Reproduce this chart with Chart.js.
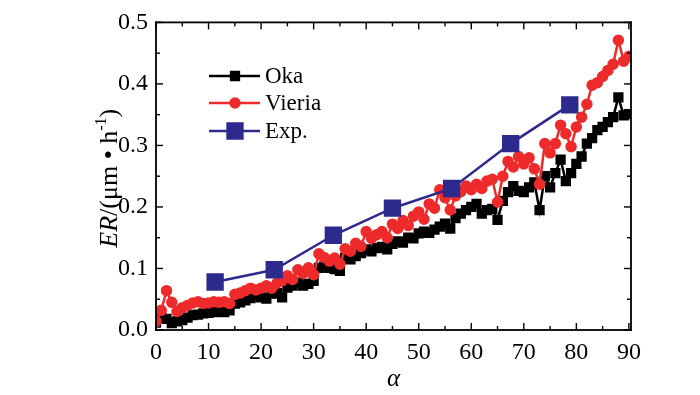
<!DOCTYPE html>
<html>
<head>
<meta charset="utf-8">
<script src="https://cdn.jsdelivr.net/npm/chart.js@4.4.0/dist/chart.umd.min.js"></script>
<style>
html, body { margin: 0; padding: 0; background: #fff; }
#wrap { width: 700px; height: 395px; position: relative; }
</style>
</head>
<body>
<div id="wrap"><canvas id="chart"></canvas></div>
<script>
// angle of attack (deg)
const angles = [
    0, 1, 2, 3, 4, 5, 6, 7, 8, 9,
    10, 11, 12, 13, 14, 15, 16, 17, 18, 19,
    20, 21, 22, 23, 24, 25, 26, 27, 28, 29,
    30, 31, 32, 33, 34, 35, 36, 37, 38, 39,
    40, 41, 42, 43, 44, 45, 46, 47, 48, 49,
    50, 51, 52, 53, 54, 55, 56, 57, 58, 59,
    60, 61, 62, 63, 64, 65, 66, 67, 68, 69,
    70, 71, 72, 73, 74, 75, 76, 77, 78, 79,
    80, 81, 82, 83, 84, 85, 86, 87, 88, 89,
    90
];

const okaValues = [
    0.012, 0.021, 0.018, 0.011, 0.014, 0.016, 0.020, 0.024, 0.025, 0.027,
    0.028, 0.029, 0.030, 0.029, 0.032, 0.043, 0.045, 0.048, 0.052, 0.056,
    0.053, 0.051, 0.059, 0.060, 0.053, 0.069, 0.072, 0.077, 0.072, 0.075,
    0.080, 0.101, 0.103, 0.101, 0.099, 0.096, 0.117, 0.115, 0.120, 0.125,
    0.131, 0.128, 0.133, 0.135, 0.131, 0.140, 0.144, 0.142, 0.150, 0.149,
    0.157, 0.160, 0.158, 0.163, 0.168, 0.173, 0.165, 0.182, 0.189, 0.195,
    0.200, 0.205, 0.189, 0.195, 0.197, 0.179, 0.210, 0.224, 0.234, 0.226,
    0.224, 0.232, 0.240, 0.195, 0.250, 0.232, 0.255, 0.277, 0.242, 0.255,
    0.270, 0.282, 0.303, 0.312, 0.325, 0.330, 0.338, 0.346, 0.378, 0.349,
    0.351
];

const vieriaValues = [
    0.014, 0.032, 0.064, 0.045, 0.030, 0.036, 0.040, 0.044, 0.046, 0.043,
    0.044, 0.046, 0.045, 0.046, 0.043, 0.058, 0.060, 0.064, 0.068, 0.065,
    0.068, 0.072, 0.068, 0.076, 0.080, 0.088, 0.082, 0.098, 0.092, 0.101,
    0.090, 0.124, 0.118, 0.112, 0.117, 0.107, 0.132, 0.128, 0.141, 0.136,
    0.160, 0.149, 0.155, 0.160, 0.150, 0.172, 0.165, 0.178, 0.170, 0.185,
    0.192, 0.180, 0.205, 0.198, 0.228, 0.215, 0.195, 0.218, 0.225, 0.234,
    0.228, 0.237, 0.230, 0.242, 0.245, 0.208, 0.250, 0.274, 0.265, 0.282,
    0.270, 0.280, 0.262, 0.237, 0.303, 0.288, 0.303, 0.333, 0.319, 0.298,
    0.330, 0.346, 0.367, 0.398, 0.402, 0.412, 0.422, 0.432, 0.471, 0.437,
    0.445
];

const expAngles = [11.25, 22.5, 33.75, 45, 56.25, 67.5, 78.75];
const expValues = [0.078, 0.098, 0.154, 0.198, 0.230, 0.303, 0.366];

const seriesLabels = ['Oka', 'Vieria', 'Exp.'];

const FONT = '"Liberation Serif", "Times New Roman", serif';

function toPoints(xs, ys) {
    return xs.map((x, i) => ({ x: x, y: ys[i] }));
}

// frame with inward ticks on all four sides
const framePlugin = {
    id: 'frame',
    afterDraw(chart) {
        const c = chart.ctx;
        const xs = chart.scales.x;
        const ys = chart.scales.y;
        const L = xs.getPixelForValue(xs.min);
        const R = xs.getPixelForValue(xs.max);
        const T = ys.getPixelForValue(ys.max);
        const B = ys.getPixelForValue(ys.min);
        c.save();
        c.fillStyle = '#000000';
        const w = 1.8;
        c.fillRect(L - w / 2, T - w / 2, R - L + w, w);
        c.fillRect(L - w / 2, B - w / 2, R - L + w, w);
        c.fillRect(L - w / 2, T - w / 2, w, B - T + w);
        c.fillRect(R - w / 2, T - w / 2, w, B - T + w);
        xs.ticks.forEach(t => {
            const px = xs.getPixelForValue(t.value);
            const len = Math.abs(t.value % 10) < 1e-6 ? 7 : 4;
            c.fillRect(px - 0.7, B - len, 1.4, len);
            c.fillRect(px - 0.7, T, 1.4, len);
        });
        ys.ticks.forEach(t => {
            const py = ys.getPixelForValue(t.value);
            const len = Math.round(t.value * 100) % 10 === 0 ? 7 : 4;
            c.fillRect(L, py - 0.7, len, 1.4);
            c.fillRect(R - len, py - 0.7, len, 1.4);
        });
        c.restore();
    }
};

// axis titles and legend
const textPlugin = {
    id: 'texts',
    afterDraw(chart) {
        const c = chart.ctx;
        const xs = chart.scales.x;
        const ys = chart.scales.y;
        const T = ys.getPixelForValue(ys.max);
        const B = ys.getPixelForValue(ys.min);
        c.save();
        c.fillStyle = '#000';
        c.textAlign = 'center';
        c.textBaseline = 'alphabetic';
        c.font = 'italic 25px ' + FONT;
        c.fillText('α', (xs.left + xs.right) / 2, 386);

        c.translate(117, (T + B) / 2 + 2);
        c.rotate(-Math.PI / 2);
        const parts = [
            { t: 'ER', f: 'italic 26px ' + FONT, dy: 0 },
            { t: '/(μm • h', f: '26px ' + FONT, dy: 0 },
            { t: '-1', f: '16px ' + FONT, dy: -11 },
            { t: ')', f: '26px ' + FONT, dy: 0 }
        ];
        let total = 0;
        parts.forEach(p => { c.font = p.f; p.w = c.measureText(p.t).width; total += p.w; });
        let cx = -total / 2;
        c.textAlign = 'left';
        parts.forEach(p => {
            c.font = p.f;
            c.fillText(p.t, cx, p.dy);
            cx += p.w;
        });
        c.restore();

        c.save();
        const rows = [76, 103, 131];
        chart.data.datasets.forEach((ds, i) => {
            const y = rows[i];
            c.strokeStyle = ds.borderColor;
            c.lineWidth = ds.borderWidth;
            c.beginPath();
            c.moveTo(209, y); c.lineTo(260, y);
            c.stroke();
            c.fillStyle = ds.pointBackgroundColor;
            c.strokeStyle = ds.pointBorderColor;
            Chart.helpers.drawPoint(c, {
                pointStyle: ds.pointStyle,
                radius: ds.pointRadius,
                borderWidth: 1
            }, 235, y);
            c.fillStyle = '#000';
            c.font = '23px ' + FONT;
            c.textBaseline = 'middle';
            c.textAlign = 'left';
            c.fillText(ds.label, 265, y + 1);
        });
        c.restore();
    }
};

const ctx = document.getElementById('chart').getContext('2d');

new Chart(ctx, {
    type: 'line',
    data: {
        datasets: [{
            label: seriesLabels[0],
            data: toPoints(angles, okaValues),
            borderColor: '#000000',
            backgroundColor: '#000000',
            pointBackgroundColor: '#000000',
            pointBorderColor: '#000000',
            pointStyle: 'rect',
            pointRadius: 5.5,
            borderWidth: 2.5,
            order: 2
        }, {
            label: seriesLabels[1],
            data: toPoints(angles, vieriaValues),
            borderColor: '#ee2a2a',
            backgroundColor: '#ee2a2a',
            pointBackgroundColor: '#ee2a2a',
            pointBorderColor: '#ee2a2a',
            pointStyle: 'circle',
            pointRadius: 4.5,
            borderWidth: 2.5,
            order: 1
        }, {
            label: seriesLabels[2],
            data: toPoints(expAngles, expValues),
            borderColor: '#2d2a8e',
            backgroundColor: '#2d2a8e',
            pointBackgroundColor: '#2d2a8e',
            pointBorderColor: '#2d2a8e',
            pointStyle: 'rect',
            pointRadius: 10.5,
            borderWidth: 2.5,
            order: 0
        }]
    },
    options: {
        responsive: true,
        maintainAspectRatio: false,
        animation: false,
        layout: {
            padding: { top: 17, right: 69, left: 0, bottom: 0 }
        },
        plugins: {
            legend: { display: false },
            tooltip: { enabled: false }
        },
        scales: {
            x: {
                type: 'linear',
                min: 0,
                max: 90.4,
                grid: { display: false, drawTicks: false },
                border: { display: false },
                ticks: {
                    stepSize: 5,
                    includeBounds: false,
                    autoSkip: false,
                    maxRotation: 0,
                    padding: 8,
                    color: '#000',
                    font: { family: FONT, size: 24 },
                    callback: v => (v % 10 === 0 ? String(v) : '')
                },
                afterFit(scale) { scale.height = 65; }
            },
            y: {
                min: 0,
                max: 0.5,
                grid: { display: false, drawTicks: false },
                border: { display: false },
                ticks: {
                    stepSize: 0.05,
                    autoSkip: false,
                    padding: 8,
                    color: '#000',
                    font: { family: FONT, size: 24 },
                    callback: v => (Math.round(v * 100) % 10 === 0 ? v.toFixed(1) : '')
                },
                afterFit(scale) { scale.width = 156; }
            }
        }
    },
    plugins: [framePlugin, textPlugin]
});
</script>
</body>
</html>
